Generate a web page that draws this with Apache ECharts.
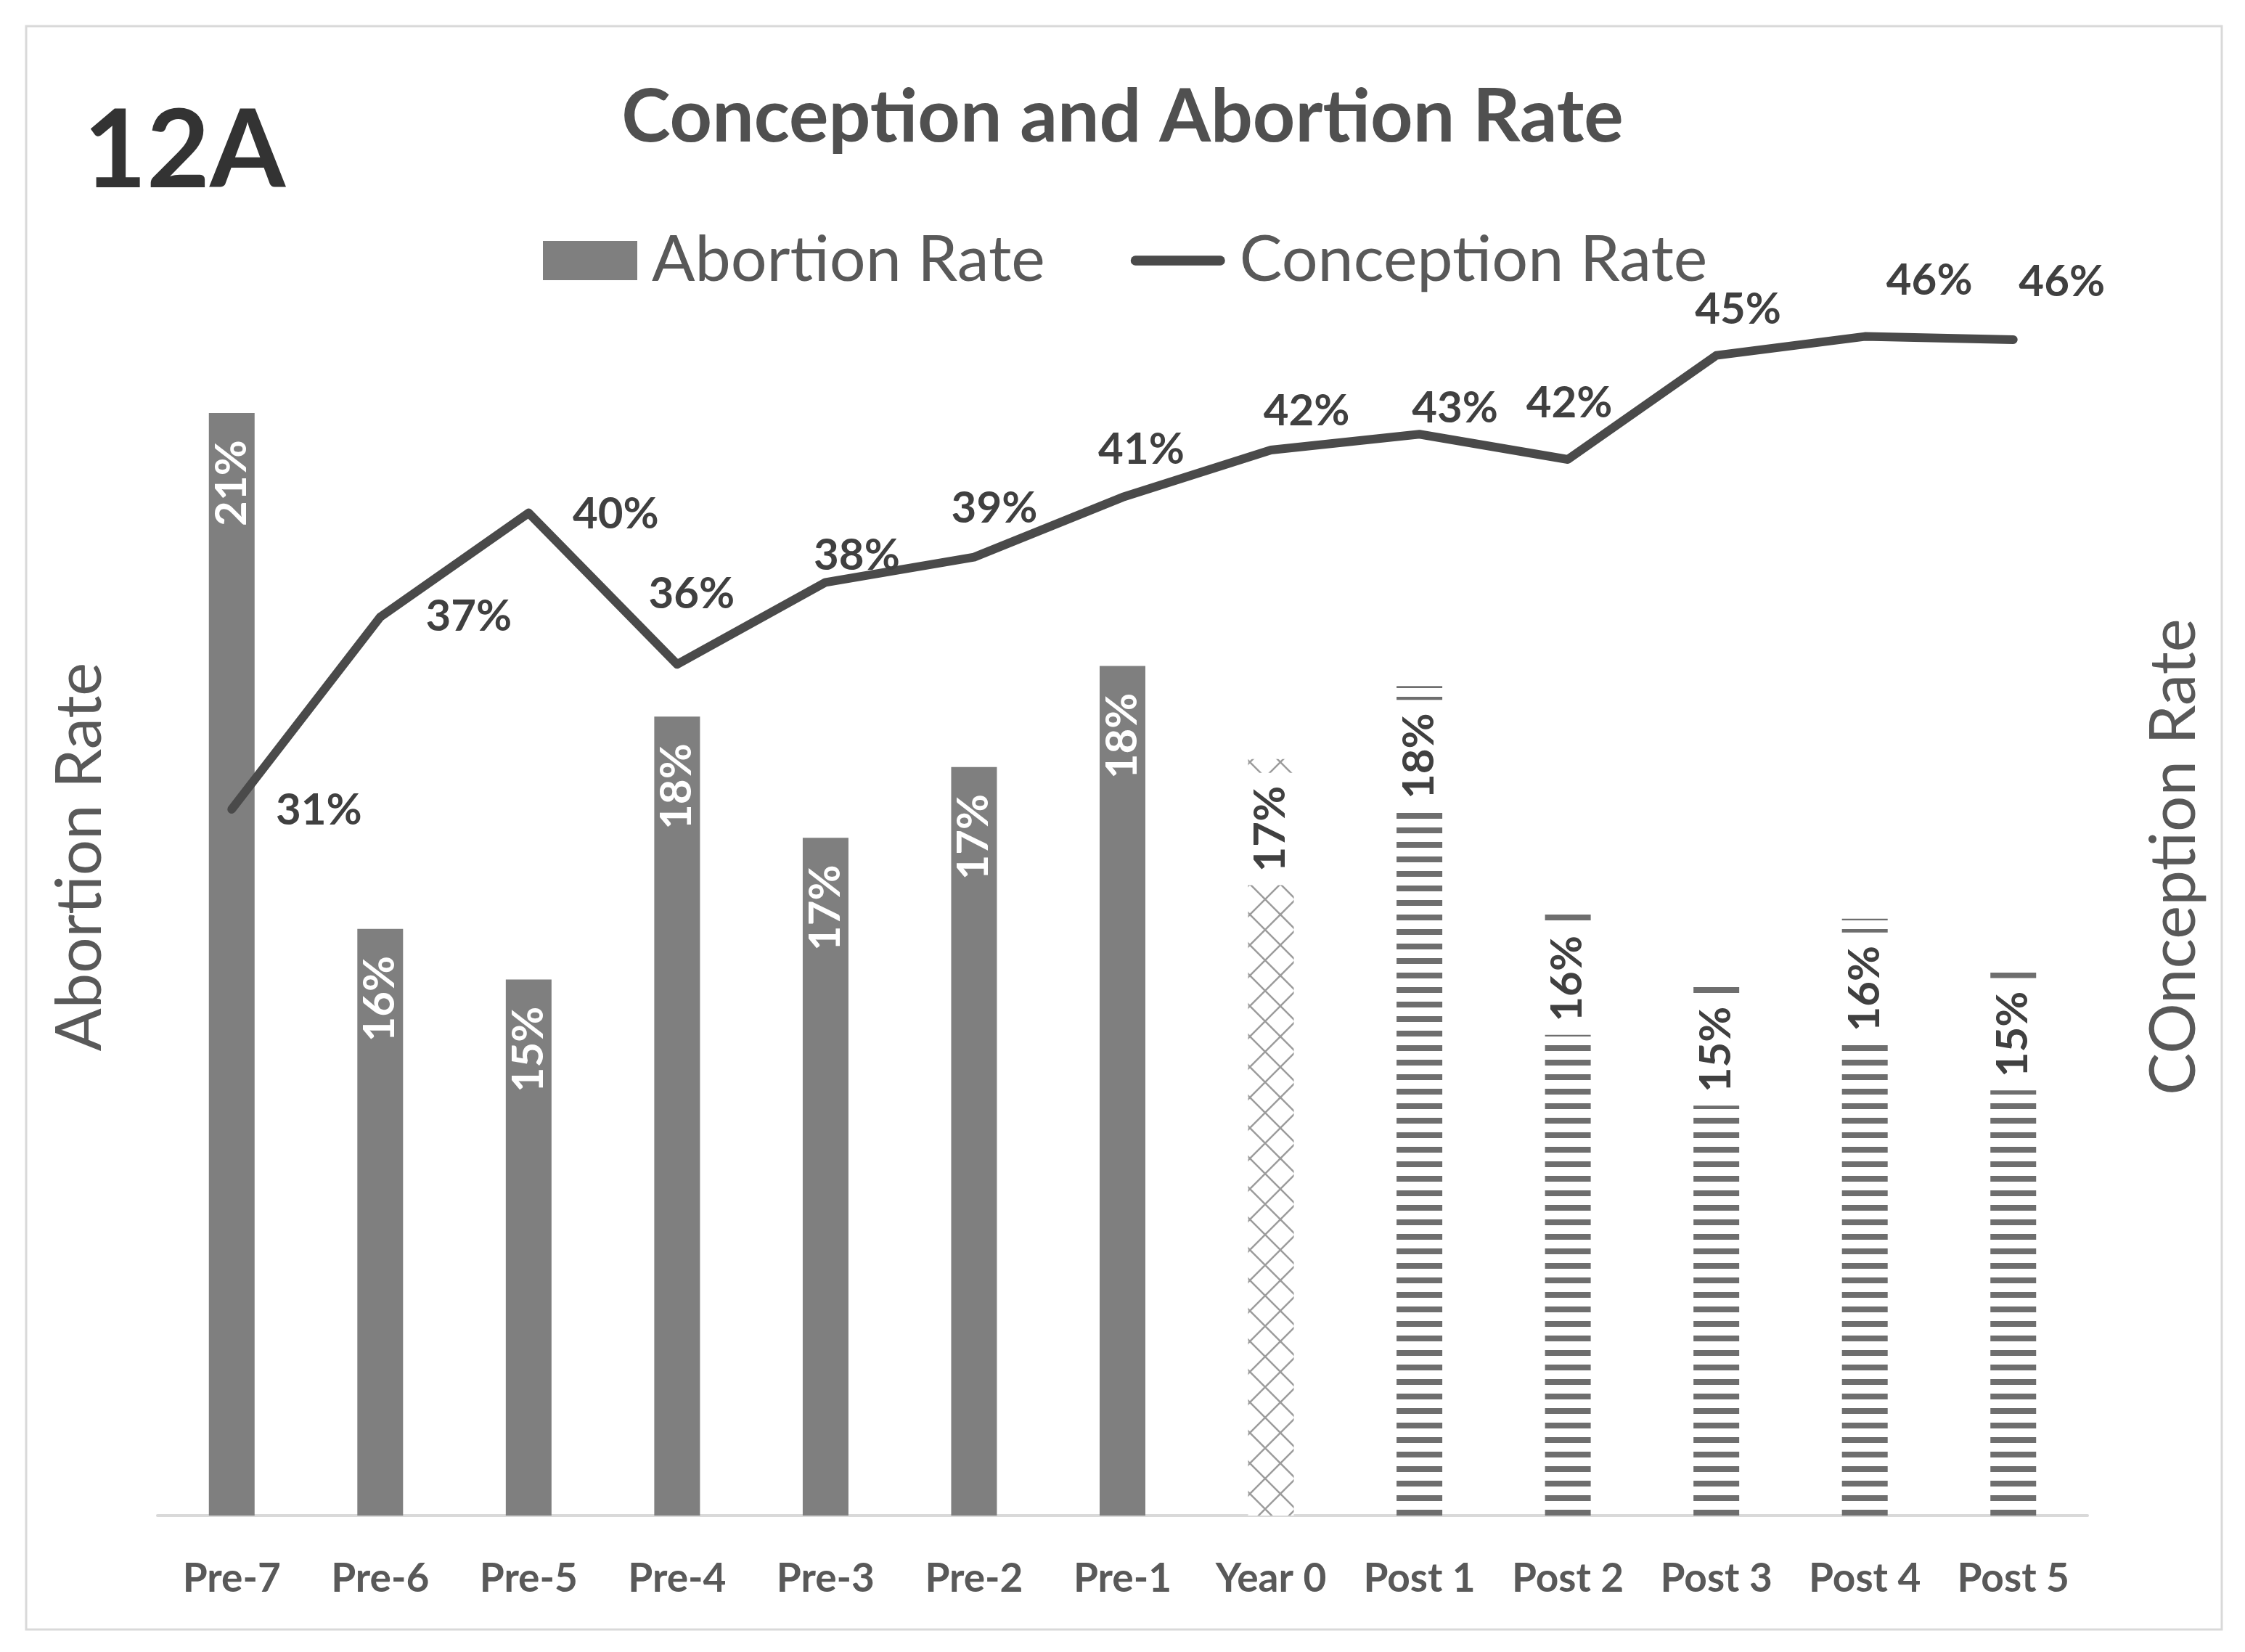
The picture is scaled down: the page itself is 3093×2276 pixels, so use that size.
<!DOCTYPE html>
<html><head><meta charset="utf-8">
<script src="https://cdn.jsdelivr.net/npm/echarts@6/dist/echarts.min.js"></script>
<style>html,body{margin:0;padding:0;background:#fff}#c{width:3093px;height:2276px}</style>
</head><body><div id="c"></div>
<script>
// ---- data ----
const categories = ['Pre-7','Pre-6','Pre-5','Pre-4','Pre-3','Pre-2','Pre-1','Year 0','Post 1','Post 2','Post 3','Post 4','Post 5'];
const abortionRate = [0.209,0.158,0.153,0.179,0.167,0.174,0.184,0.1748,0.182,0.160,0.153,0.159,0.1545];
const conceptionRate = [0.310,0.371,0.404,0.356,0.382,0.390,0.409,0.424,0.429,0.421,0.454,0.460,0.459];
// ---- styles ----
const barFill = ['solid','solid','solid','solid','solid','solid','solid','diamond','stripe','stripe','stripe','stripe','stripe'];
const lineLabelOffsets = [[120,2],[122,0],[120,2],[20,-97],[43,-37],[28,-67],[26,-65],[49,-53],[49,-36],[2,-77],[30,-63],[89,-77],[67,-79]];

const FONT = 'Lato';
const pct = v => Math.round(v * 100) + '%';

function makeStripe() {
  const c = document.createElement('canvas'); c.width = 10; c.height = 20;
  const g = c.getContext('2d');
  g.fillStyle = '#fff'; g.fillRect(0, 0, 10, 20);
  g.fillStyle = '#6e6e6e'; g.fillRect(0, 0, 10, 8);
  return c;
}
function makeDiamond() {
  const s = 42;
  const c = document.createElement('canvas'); c.width = s; c.height = s;
  const g = c.getContext('2d');
  g.fillStyle = '#fff'; g.fillRect(0, 0, s, s);
  g.strokeStyle = '#9c9c9c'; g.lineWidth = 2.5;
  g.beginPath(); g.moveTo(0, 0); g.lineTo(s, s); g.moveTo(s, 0); g.lineTo(0, s); g.stroke();
  return c;
}
const patterns = {
  stripe: { image: makeStripe(), repeat: 'repeat' },
  diamond: { image: makeDiamond(), repeat: 'repeat' }
};

const barData = abortionRate.map((v, i) => {
  if (barFill[i] === 'solid') return { value: v };
  return {
    value: v,
    itemStyle: { color: patterns[barFill[i]] },
    label: { color: '#404040', backgroundColor: '#fff' }
  };
});
const lineData = conceptionRate.map((v, i) => ({
  value: v,
  label: { offset: lineLabelOffsets[i] }
}));

const chart = echarts.init(document.getElementById('c'), null, { renderer: 'canvas' });
chart.setOption({
  animation: false,
  backgroundColor: '#fff',
  title: [
    { text: 'Conception and Abortion Rate', left: 'center', top: 106,
      textStyle: { fontFamily: FONT, fontSize: 102, fontWeight: 'bold', color: '#505050' } },
    { text: '12A', left: 110, top: 130,
      textStyle: { fontFamily: FONT, fontSize: 150, fontWeight: 'bold', color: '#333333' } }
  ],
  legend: {
    left: 748, top: 315, padding: 0,
    itemWidth: 130, itemHeight: 54, itemGap: 118,
    textStyle: { fontFamily: FONT, fontSize: 88, color: '#595959', padding: [0, 0, 0, 15] },
    data: [
      { name: 'Abortion Rate', icon: 'rect', itemStyle: { color: '#7f7f7f' } },
      { name: 'Conception Rate', icon: 'path://M7,0 H129 A7,7 0 0 1 129,14 H7 A7,7 0 0 1 7,0 Z',
        itemStyle: { color: '#4a4a4a' } }
    ]
  },
  grid: { left: 217, right: 217, top: 273, bottom: 188, outerBoundsMode: 'none' },
  xAxis: {
    type: 'category', data: categories,
    axisLine: { lineStyle: { color: '#d9d9d9', width: 4 } },
    axisTick: { show: false },
    axisLabel: { fontFamily: FONT, fontSize: 55, fontWeight: 'bold', color: '#595959', margin: 60 }
  },
  yAxis: [
    { type: 'value', min: 0.10, max: 0.23025,
      name: 'Abortion Rate', nameLocation: 'middle', nameRotate: 90, nameGap: 63,
      nameTextStyle: { fontFamily: FONT, fontSize: 87, color: '#595959' },
      axisLine: { show: false }, axisTick: { show: false }, axisLabel: { show: false }, splitLine: { show: false } },
    { type: 'value', min: 0.0859, max: 0.5039, position: 'right',
      name: 'COnception Rate', nameLocation: 'middle', nameRotate: 90, nameGap: 76,
      nameTextStyle: { fontFamily: FONT, fontSize: 87, color: '#595959' },
      axisLine: { show: false }, axisTick: { show: false }, axisLabel: { show: false }, splitLine: { show: false } }
  ],
  series: [
    { name: 'Abortion Rate', type: 'bar', yAxisIndex: 0, barWidth: 63,
      itemStyle: { color: '#7f7f7f' },
      label: { show: true, position: 'insideTop', rotate: 90, align: 'right', verticalAlign: 'middle',
        distance: 19, padding: [4, 18], formatter: p => pct(p.value),
        fontFamily: FONT, fontSize: 60, fontWeight: 'bold', color: '#ffffff' },
      data: barData },
    { name: 'Conception Rate', type: 'line', yAxisIndex: 1,
      symbol: 'circle', symbolSize: 2, showSymbol: true,
      lineStyle: { width: 12, color: '#4a4a4a', join: 'round', cap: 'round' },
      itemStyle: { color: '#4a4a4a' },
      label: { show: true, position: 'inside', formatter: p => pct(p.value),
        fontFamily: FONT, fontSize: 60, fontWeight: 'bold', color: '#404040' },
      data: lineData, z: 3 }
  ],
  graphic: [
    { type: 'rect', shape: { x: 36, y: 36, width: 3025, height: 2209 },
      style: { fill: 'none', stroke: '#d9d9d9', lineWidth: 3 }, silent: true }
  ]
});
</script></body></html>
